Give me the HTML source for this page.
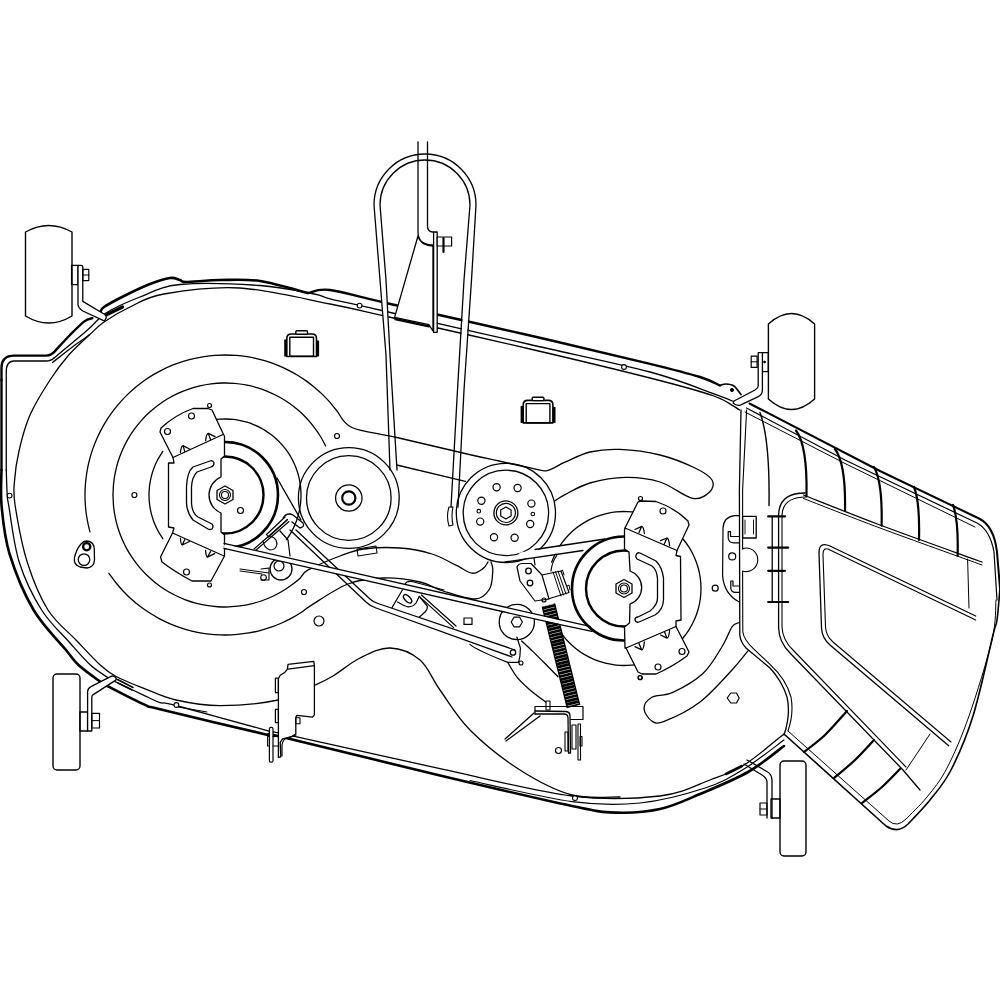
<!DOCTYPE html>
<html><head><meta charset="utf-8">
<style>
html,body{margin:0;padding:0;background:#fff;width:1000px;height:1000px;overflow:hidden;}
svg{display:block;}
</style></head><body>
<svg width="1000" height="1000" viewBox="0 0 1000 1000">
<rect width="1000" height="1000" fill="#fff"/>
<g fill="none" stroke="#000" stroke-linejoin="round" stroke-linecap="round">
<path d="M1.5,470 L1.5,380" stroke-width="2.4" fill="none" />
<path d="M1.5,380 V368 Q1.5,355.6 14,355.6 H46 Q52,355.6 56,350" stroke-width="2.4" fill="none" />
<path d="M56,350 C58.33,347.5 65.27,339.77 70,335 C74.73,330.23 80.67,324.2 84.4,321.4 C88.13,318.6 91.07,318.73 92.4,318.2" stroke-width="2.4" fill="none" />
<path d="M100.4,312 C101,311.17 99.9,309.75 104,307 C108.1,304.25 117.33,299.33 125,295.5 C132.67,291.67 142.5,286.92 150,284 C157.5,281.08 165,278.67 170,278 C175,277.33 177.33,279.33 180,280 C182.67,280.67 179.33,282 186,282 C192.67,282 207.67,280.17 220,280 C232.33,279.83 245.33,278.83 260,281 C274.67,283.17 300,291 308,293" stroke-width="2.6" fill="none" />
<path d="M107,314.5 L122.5,307" stroke-width="3.2" fill="none" />
<path d="M308,293 C311.67,292.5 317,288.33 330,290 C343,291.67 352.67,295.42 386,303 C419.33,310.58 486,325.37 530,335.5 C574,345.63 621.67,356.88 650,363.8 C678.33,370.72 688.33,373.38 700,377 C711.67,380.62 716.67,384.08 720,385.5" stroke-width="2.4" fill="none" />
<path d="M720,385.5 C721,385.25 723.67,383.92 726,384 C728.33,384.08 731.5,384.23 734,386 C736.5,387.77 739.83,393.17 741,394.6" stroke-width="1.6" fill="none" />
<circle cx="732" cy="390" r="1.6" stroke-width="1" fill="#000"/>
<path d="M6.25,470 V372 Q6.25,361 14,361 H46 Q51,361 54,358" stroke-width="1.3" fill="none" />
<path d="M54,358 C59.58,353.33 78.83,337.5 87.5,330 C96.17,322.5 97.25,318.5 106,313 C114.75,307.5 127.67,301.75 140,297 C152.33,292.25 160,286.42 180,284.5 C200,282.58 237.67,283.92 260,285.5 C282.33,287.08 302.33,291.78 314,294 C325.67,296.22 318,295.88 330,298.8 C342,301.72 352.67,303.88 386,311.5 C419.33,319.12 486,334.42 530,344.5 C574,354.58 619,363.65 650,372 C681,380.35 701.5,389.43 716,394.6 C730.5,399.77 733.5,401.6 737,403" stroke-width="1.3" fill="none" />
<path d="M52.5,362.5 C56.25,359.58 68.88,349.58 75,345 C81.12,340.42 84.43,338.8 89.2,335 C93.97,331.2 96.8,326.87 103.6,322.2 C110.4,317.53 119.93,311.7 130,307 C140.07,302.3 145.67,297.17 164,294 C182.33,290.83 212.33,286.33 240,288 C267.67,289.67 305.17,299.17 330,304 C354.83,308.83 355.67,309.5 389,317 C422.33,324.5 486.5,338.83 530,349 C573.5,359.17 619.33,370.17 650,378 C680.67,385.83 699.07,390.67 714,396 C728.93,401.33 735.33,407.67 739.6,410" stroke-width="1.3" fill="none" />
<circle cx="359.6" cy="305.6" r="2.4" stroke-width="1.1" fill="#fff"/>
<circle cx="624" cy="367" r="2.4" stroke-width="1.1" fill="#fff"/>
<path d="M1.5,470 C1.52,476 0.25,492 1.6,506 C2.95,520 4.27,536.67 9.6,554 C14.93,571.33 24.2,594 33.6,610 C43,626 58.52,640.83 66,650 C73.48,659.17 72.92,659.82 78.5,665 C84.08,670.18 94.48,677.48 99.5,681.1 C104.52,684.72 101.02,682.73 108.6,686.7 C116.18,690.67 136.43,701.15 145,704.9 C153.57,708.65 139.5,704.18 160,709.2 C180.5,714.22 248,730.45 268,735 C288,739.55 251.33,729.75 280,736.5 C308.67,743.25 391.33,763.92 440,775.5 C488.67,787.08 542.67,799.82 572,806 C601.33,812.18 601.33,812.1 616,812.6 C630.67,813.1 646,812.1 660,809 C674,805.9 685.33,800.17 700,794 C714.67,787.83 734,780 748,772 C762,764 778,750.33 784,746" stroke-width="2.6" fill="none" />
<path d="M470,780.5 C487,784.02 543.67,797.85 572,801.6 C600.33,805.35 617.83,805.27 640,803 C662.17,800.73 687.67,793.67 705,788 C722.33,782.33 730.83,777 744,769 C757.17,761 777.33,744.83 784,740" stroke-width="1.2" fill="none" />
<path d="M6.25,470 C6.41,474.13 6.78,488.8 7.2,494.8 C7.62,500.8 6.8,494.8 8.8,506 C10.8,517.2 13.73,544.67 19.2,562 C24.67,579.33 33.13,596.5 41.6,610 C50.07,623.5 61.87,633.83 70,643 C78.13,652.17 84.08,659.23 90.4,665 C96.72,670.77 103.47,674.68 107.9,677.6 C112.33,680.52 110.82,679.47 117,682.5 C123.18,685.53 137.83,692.45 145,695.8 C152.17,699.15 154.83,700.98 160,702.6 C165.17,704.22 158,700.8 176,705.5 C194,710.2 250.67,726.18 268,730.8 C285.33,735.42 251.33,726.9 280,733.2 C308.67,739.5 391.33,758.13 440,768.6 C488.67,779.07 535.33,791.43 572,796 C608.67,800.57 637,798.67 660,796 C683,793.33 696,785.17 710,780 C724,774.83 731.67,772.67 744,765 C756.33,757.33 777.33,739.17 784,734" stroke-width="1.3" fill="none" />
<circle cx="9.6" cy="495.6" r="2.4" stroke-width="1.1" fill="#fff"/>
<circle cx="176.4" cy="705" r="2.4" stroke-width="1.1" fill="#fff"/>
<path d="M178,707 L207,712" stroke-width="1.1" fill="none" />
<circle cx="575" cy="798" r="2.5" stroke-width="1.1" fill="#fff"/>
<path d="M89.2,335 C85.79,338.33 75.28,347.5 68.75,355 C62.22,362.5 56.46,370 50,380 C43.54,390 35.13,403.33 30,415 C24.87,426.67 21.8,438.83 19.2,450 C16.6,461.17 15.07,472.67 14.4,482 C13.73,491.33 13.07,492.67 15.2,506 C17.33,519.33 21.73,544.67 27.2,562 C32.67,579.33 39.87,597 48,610 C56.13,623 67.3,630.83 76,640 C84.7,649.17 93.6,658.97 100.2,665 C106.8,671.03 108.13,672.23 115.6,676.2 C123.07,680.17 134.93,684.83 145,688.8 C155.07,692.77 163.5,697.2 176,700 C188.5,702.8 203,705.6 220,705.6 C237,705.6 262.17,703.43 278,700 C293.83,696.57 305.83,689 315,685 C324.17,681 325.5,680.5 333,676 C340.5,671.5 350.5,662.67 360,658 C369.5,653.33 380,647.67 390,648 C400,648.33 411.67,653 420,660 C428.33,667 431.67,678.33 440,690 C448.33,701.67 456.67,716.67 470,730 C483.33,743.33 503,759.17 520,770 C537,780.83 555.33,790.5 572,795 C588.67,799.5 612,796.67 620,797" stroke-width="1.3" fill="none" />
<path d="M25.5,232 Q48.75,219 72,232 V316 Q48.75,330 25.5,316 Z" stroke-width="1.4" fill="none" />
<rect x="71.6" y="265.4" width="6.4" height="19.2" rx="0" stroke-width="1.3" fill="none"/>
<path d="M78,265.4 H81.2 Q82.8,265.4 82.8,267 V301.4 L104.4,314.2 Q107,316 106,318.2 Q105,321 103.6,320.6 L82.8,311 Q78,308 78,304.6 Z" stroke-width="1.3" fill="#fff" />
<rect x="82.8" y="269.4" width="6" height="11.2" rx="0" stroke-width="1.2" fill="none"/>
<path d="M82.8,275 H88.8" stroke-width="1.0" fill="none" />
<rect x="53" y="674" width="27" height="96" rx="4" stroke-width="1.4" fill="none"/>
<rect x="79.9" y="712" width="7.7" height="19" rx="0" stroke-width="1.3" fill="none"/>
<path d="M87.6,731 V691.6 Q88,688 91,686.7 L110,676.9 Q114,674.5 116.3,678.3 Q116.5,680.5 114.2,681.1 L92.5,695.1 Q91.8,696 91.8,698 V731 Z" stroke-width="1.3" fill="#fff" />
<rect x="91.8" y="713.3" width="7.7" height="14.7" rx="0" stroke-width="1.2" fill="none"/>
<path d="M91.8,720.6 H99.5" stroke-width="1.0" fill="none" />
<path d="M117.5,679.5 L133,687.5 M118,683 L132,690" stroke-width="1.6" fill="none" />
<path d="M768.4,324 Q791.5,303 814.6,324 V399 Q791.5,420 768.4,399 Z" stroke-width="1.4" fill="none" />
<rect x="762.4" y="352.7" width="5.9" height="18.9" rx="0" stroke-width="1.3" fill="none"/>
<path d="M758.2,352.7 H762.4 V390.5 Q762,395 757.8,396.8 L740.3,405.2 Q736,406 733.3,403.1 Q733.5,401.5 734,401 L755,390 Q758.2,388 758.2,386 Z" stroke-width="1.3" fill="#fff" />
<rect x="751.2" y="356.2" width="5.9" height="11.2" rx="0" stroke-width="1.2" fill="none"/>
<path d="M751.2,361.8 H757.1" stroke-width="1.0" fill="none" />
<circle cx="764.5" cy="362" r="0.9" stroke-width="1" fill="#000"/>
<rect x="780" y="761" width="26" height="95" rx="4" stroke-width="1.4" fill="none"/>
<rect x="771" y="799" width="9" height="19" rx="0" stroke-width="1.3" fill="none"/>
<path d="M767,818 V782 Q767,778 762,775 L744,764 M772,818 V780 Q772,774 766,771 L747,760" stroke-width="1.3" fill="none" />
<rect x="760" y="803" width="7" height="12" rx="0" stroke-width="1.2" fill="none"/>
<path d="M760,809 H767" stroke-width="1.0" fill="none" />
<path d="M726,774 L742,766" stroke-width="2.6" fill="none" />
<path d="M393.5,470 L388,355 L383,280 L377,205 A48,48 0 0 1 473,205 L467.75,280 L460.75,390 L454.5,507" stroke="#fff" stroke-width="5.5" fill="none"/>
<path d="M390,470 L386,355 L380,280 L374,205 A51,51 0 0 1 476,205 L471.5,280 L464,390 L458,507" stroke-width="1.3" fill="none" />
<path d="M397,470 L390,355 L386,280 L380,205 A45,45 0 0 1 470,205 L464,280 L457.5,390 L451,507" stroke-width="1.3" fill="none" />
<path d="M418,142 V232 Q418,245 433,245 M427.5,142 V226 Q427.5,232 433,232" stroke-width="1.3" fill="none" />
<path d="M418,236 Q420,245 433,246 L433,331 L428.8,324.6 L394.6,317.4 Z" stroke-width="1.3" fill="#fff" />
<path d="M395,319.5 L428.8,326.8" stroke-width="1.3" fill="none" />
<rect x="433.6" y="232" width="3.6" height="100.4" rx="0" stroke-width="1.3" fill="#fff"/>
<rect x="437.2" y="237" width="14.4" height="9" rx="0" stroke-width="1.2" fill="#fff"/>
<path d="M443.5,238 V252" stroke-width="2.2" fill="none" />
<path d="M749.5,403.5 L880,471 L979,518.5 Q994,526 997,552 L1000,588" stroke-width="2.0" fill="none" />
<path d="M746.5,408 L845,460 L977,523 Q990,530 994,552 L997,600" stroke-width="1.2" fill="none" />
<path d="M745,412 L845,463.5 L975,527" stroke-width="1.0" fill="none" />
<path d="M760,412.5 Q770,440 769,505.5" stroke-width="1.4" fill="none" />
<path d="M796,430.5 Q807.5,445.5 806.5,496.5" stroke-width="2.2" fill="none" />
<path d="M835,449 Q846,464 845,511" stroke-width="2.2" fill="none" />
<path d="M874,467 Q882.6,482 881.6,525.6" stroke-width="2.2" fill="none" />
<path d="M914,487 Q920,502 919,540" stroke-width="2.2" fill="none" />
<path d="M953,505 Q958.6,520 957.6,556" stroke-width="2.2" fill="none" />
<path d="M803.5,495 C816.25,500 850.25,513.83 880,525 C909.75,536.17 965,555.83 982,562" stroke-width="1.3" fill="none" />
<path d="M803.5,498.5 C816.25,503.42 850.25,516.92 880,528 C909.75,539.08 965,558.83 982,565" stroke-width="1.0" fill="none" />
<path d="M1000,588 C999.5,593.33 998.17,612.17 997,620 C995.83,627.83 997,619 993,635 C989,651 980,693.5 973,716 C966,738.5 958.17,756 951,770 C943.83,784 937.17,791 930,800 C922.83,809 911.67,820 908,824 Q898,834 886,826 L784,734" stroke-width="1.6" fill="none" />
<path d="M996,600 C995.33,606.67 996.5,620.67 992,640 C987.5,659.33 976.5,694.67 969,716 C961.5,737.33 954,754.5 947,768 C940,781.5 933.83,788.5 927,797 C920.17,805.5 909.5,815.33 906,819 Q897,828 889,821 L788,731" stroke-width="1.0" fill="none" />
<path d="M805,493 Q779,493 778.6,515 L778.6,628 Q779,642 790,653 L903,770 L920,790" stroke-width="1.3" fill="none" />
<path d="M806,497 Q783,497 782,515 L782,627 Q782.5,640 793,650 L906,767" stroke-width="1.1" fill="none" />
<path d="M975.7,616 L830,546 Q819,541 819,553 L821.5,628 Q822,638 830,645 L948.7,745.7" stroke-width="1.3" fill="none" />
<path d="M975.7,620 L830,550 Q823,546 823,555 L825.5,627 Q826,636 833,642 L951,742" stroke-width="1.1" fill="none" />
<path d="M967.6,559 L969,608" stroke-width="1.0" fill="none" />
<path d="M930,734 L906,770" stroke-width="1.0" fill="none" />
<path d="M804,752 C807.5,749.17 817.83,741.83 825,735 C832.17,728.17 843.33,715 847,711" stroke-width="2.2" fill="none" />
<path d="M834,778 C837.5,775 848.33,766.33 855,760 C861.67,753.67 870.83,743.33 874,740" stroke-width="2.2" fill="none" />
<path d="M862,803 C865.33,800.33 875.67,792.67 882,787 C888.33,781.33 897,772 900,769" stroke-width="2.2" fill="none" />
<path d="M741,410 L739.4,490 L739.8,635 Q740.5,642 746,648 L770,668 Q782,681 787,697 Q791,714 784,735" stroke-width="1.3" fill="none" />
<path d="M746.6,410 L742.6,490 L742.6,549" stroke-width="1.1" fill="none" />
<path d="M742.6,549 Q744,548 746,548 A11.5,11.5 0 0 1 746,571.6 Q744,571.6 742.6,571 L742.8,632 Q744,640 753.6,648.8 L770,664.4 Q786,679 791,697 Q794,714 788,731" stroke-width="1.1" fill="none" />
<path d="M739.4,515.6 L734.6,515.6 Q723.5,517 723,528 L722.6,575.6 Q724,594 739.2,602" stroke-width="1.2" fill="none" />
<path d="M728.2,531.6 L728.2,538 Q728.5,542.8 734,542.8 L739.4,542.8 M728.2,531.6 L730.5,531.6 L730.5,536.5 L739.4,536.5" stroke-width="1.2" fill="none" />
<circle cx="732.2" cy="556.4" r="3.5" stroke-width="1.2" fill="none"/>
<path d="M730.8,581 L730.8,588 Q731,592.4 735.6,592.4 L739.4,592.4 M730.8,581 L733,581 L733,586 L739.4,586" stroke-width="1.2" fill="none" />
<rect x="742.6" y="516.4" width="13.6" height="21.6" rx="0" stroke-width="1.3" fill="none"/>
<path d="M745,520 V534 M753.5,520 V534" stroke-width="0.9" fill="none" />
<path d="M772.2,516.4 V602" stroke-width="1.3" fill="none" />
<path d="M768.2,516.4 H785" stroke-width="2.2" fill="none" />
<path d="M768.2,547.6 H788.2" stroke-width="2.2" fill="none" />
<path d="M768.2,570.8 H785" stroke-width="2.2" fill="none" />
<path d="M768.2,602 H788.2" stroke-width="2.2" fill="none" />
<path d="M89.96,531.94 C89.56,530.2 88.2,524.99 87.53,521.48 C86.85,517.97 86.31,514.42 85.9,510.86 C85.5,507.31 85.23,503.73 85.09,500.15 C84.96,496.57 84.97,492.98 85.11,489.41 C85.25,485.83 85.54,482.25 85.95,478.7 C86.37,475.15 86.92,471.6 87.61,468.09 C88.3,464.58 89.12,461.08 90.08,457.63 C91.03,454.18 92.12,450.76 93.34,447.4 C94.56,444.03 95.91,440.71 97.38,437.44 C98.85,434.18 100.45,430.97 102.17,427.83 C103.88,424.69 105.73,421.61 107.68,418.61 C109.63,415.61 111.7,412.68 113.88,409.84 C116.06,407 118.35,404.23 120.74,401.57 C123.13,398.9 125.62,396.32 128.21,393.85 C130.79,391.38 133.48,389 136.25,386.73 C139.02,384.46 141.88,382.29 144.81,380.24 C147.74,378.19 150.76,376.25 153.85,374.43 C156.93,372.61 160.09,370.91 163.3,369.33 C166.51,367.75 169.79,366.3 173.12,364.97 C176.44,363.64 179.82,362.44 183.24,361.37 C186.65,360.31 190.12,359.37 193.61,358.57 C197.09,357.76 200.62,357.09 204.16,356.56 C207.7,356.03 211.27,355.63 214.83,355.37 C218.4,355.11 221.99,354.99 225.57,355 C229.15,355.02 232.74,355.17 236.3,355.46 C239.87,355.75 243.43,356.17 246.97,356.73 C250.5,357.3 254.02,357.99 257.5,358.83 C260.98,359.66 264.44,360.62 267.85,361.72 C271.26,362.81 274.63,364.04 277.94,365.4 C281.25,366.75 284.52,368.23 287.72,369.84 C290.92,371.44 294.07,373.17 297.13,375.01 C300.2,376.86 303.21,378.82 306.12,380.9 C309.04,382.97 311.88,385.16 314.63,387.45 C317.38,389.74 320.05,392.15 322.61,394.64 C325.18,397.14 327.65,399.74 330.02,402.42 C332.39,405.11 333.15,406.57 336.81,410.75 C340.47,414.93 342,423.04 352,427.5 C362,431.96 376.9,432.92 396.8,437.5 C416.7,442.08 454.37,451.08 471.4,455 C488.43,458.92 489,458.8 499,461 C509,463.2 523.4,466.6 531.4,468.2 C539.4,469.8 541.4,471.6 547,470.6 C552.6,469.6 557.83,465.3 565,462.2 C572.17,459.1 580.83,454.13 590,452 C599.17,449.87 608.33,448.9 620,449.4 C631.67,449.9 647.5,451.9 660,455 C672.5,458.1 686.33,463.83 695,468 C703.67,472.17 709.57,476 712,480 C714.43,484 712.8,488.93 709.6,492 C706.4,495.07 701.07,500.07 692.8,498.4 C684.53,496.73 671.2,485.5 660,482 C648.8,478.5 637.27,477.23 625.6,477.4 C613.93,477.57 600.1,480.13 590,483 C579.9,485.87 570.77,491.67 565,494.6 C559.23,497.53 557,499.6 555.4,500.6" stroke-width="1.3" fill="none" />
<path d="M108.93,573.29 C110.07,574.83 113.35,579.55 115.74,582.53 C118.13,585.52 120.65,588.41 123.28,591.19 C125.91,593.97 128.66,596.65 131.5,599.2 C134.35,601.76 137.31,604.2 140.36,606.51 C143.4,608.83 146.55,611.02 149.78,613.07 C153,615.13 156.32,617.06 159.71,618.84 C163.09,620.62 166.56,622.27 170.07,623.78 C173.59,625.28 177.18,626.64 180.81,627.84 C184.44,629.05 188.13,630.11 191.84,631.02 C195.56,631.92 199.32,632.68 203.1,633.28 C206.88,633.87 210.69,634.32 214.5,634.61 C218.32,634.89 222.15,635.02 225.98,635 C229.8,634.97 233.64,634.79 237.45,634.45 C241.25,634.11 245.06,633.61 248.83,632.96 C252.6,632.31 256.35,631.5 260.05,630.54 C263.76,629.58 267.43,628.47 271.04,627.21 C274.65,625.96 278.22,624.54 281.72,623 C285.22,621.45 288.66,619.75 292.02,617.92 C295.37,616.09 298.67,614.11 301.86,612.01 C305.06,609.91 303.5,609.99 311.19,605.32 C318.88,600.65 335.87,588.55 348,584 C360.13,579.45 372,578.33 384,578 C396,577.67 410.17,579.83 420,582 C429.83,584.17 433.83,588.17 443,591 C452.17,593.83 467.23,599.33 475,599 C482.77,598.67 486.63,593.83 489.6,589 C492.57,584.17 492.57,574.5 492.8,570 C493.03,565.5 491.3,563.33 491,562" stroke-width="1.3" fill="none" />
<path d="M325.66,445.9 C324.73,444.21 322.1,439.05 320.06,435.78 C318.02,432.51 315.81,429.33 313.44,426.28 C311.08,423.24 308.54,420.31 305.88,417.52 C303.21,414.74 300.39,412.08 297.45,409.59 C294.51,407.1 291.43,404.75 288.25,402.57 C285.07,400.39 281.76,398.37 278.38,396.54 C274.99,394.7 271.49,393.03 267.93,391.55 C264.37,390.08 260.72,388.78 257.03,387.68 C253.33,386.57 249.57,385.66 245.78,384.94 C241.99,384.23 238.15,383.71 234.31,383.39 C230.47,383.07 226.6,382.95 222.74,383.02 C218.89,383.1 215.02,383.38 211.2,383.85 C207.38,384.33 203.56,385 199.81,385.87 C196.05,386.74 192.32,387.8 188.68,389.05 C185.03,390.3 181.44,391.75 177.94,393.37 C174.44,394.99 171.01,396.79 167.7,398.77 C164.39,400.74 161.17,402.89 158.08,405.19 C154.99,407.49 152,409.97 149.17,412.58 C146.33,415.19 143.62,417.96 141.07,420.84 C138.52,423.73 136.1,426.77 133.86,429.9 C131.62,433.03 129.54,436.3 127.63,439.65 C125.73,443 123.99,446.47 122.44,450 C120.89,453.52 119.52,457.15 118.34,460.82 C117.17,464.49 116.18,468.24 115.39,472.01 C114.59,475.78 114,479.61 113.6,483.44 C113.2,487.27 113.1,493.07 113,495 C112.9,496.93 112.91,493.13 113,495 C113.09,496.87 113.19,502.5 113.56,506.22 C113.94,509.94 114.5,513.66 115.25,517.33 C115.99,520.99 116.93,524.64 118.04,528.21 C119.15,531.78 120.44,535.32 121.9,538.76 C123.36,542.2 125.01,545.59 126.81,548.87 C128.61,552.15 130.58,555.35 132.7,558.44 C134.82,561.52 137.1,564.51 139.52,567.37 C141.93,570.22 144.51,572.97 147.2,575.57 C149.89,578.16 152.72,580.64 155.66,582.96 C158.6,585.27 161.67,587.45 164.82,589.46 C167.98,591.47 171.25,593.33 174.59,595.01 C177.93,596.7 181.37,598.22 184.86,599.56 C188.35,600.9 191.93,602.07 195.54,603.06 C199.15,604.04 202.83,604.85 206.51,605.46 C210.2,606.08 213.94,606.52 217.67,606.76 C221.41,607 225.17,607.06 228.91,606.93 C232.65,606.8 236.4,606.48 240.1,605.98 C243.81,605.47 247.51,604.78 251.15,603.91 C254.78,603.03 258.39,601.97 261.93,600.74 C265.46,599.5 268.94,598.09 272.33,596.51 C275.72,594.93 279.05,593.17 282.26,591.25 C285.48,589.34 288.61,587.26 291.62,585.03 C294.63,582.81 297.54,580.42 300.31,577.9 C303.07,575.39 301.62,573.59 308.23,569.94 C314.85,566.29 330.71,559.49 340,556 C349.29,552.51 354,550.33 364,549 C374,547.67 388.67,547.17 400,548 C411.33,548.83 422.67,551.13 432,554 C441.33,556.87 449.33,562 456,565.2 C462.67,568.4 467.47,572.67 472,573.2 C476.53,573.73 480.53,570.27 483.2,568.4 C485.87,566.53 487.2,563.07 488,562" stroke-width="1.3" fill="none" />
<path d="M396.8,465 L465.4,481.4" stroke-width="1.3" fill="none" />
<path d="M187,429.18 C188.02,428.65 191.04,426.97 193.12,426.01 C195.21,425.05 197.34,424.17 199.51,423.4 C201.67,422.63 203.88,421.96 206.1,421.39 C208.32,420.82 210.58,420.34 212.85,419.98 C215.12,419.61 217.41,419.35 219.7,419.19 C221.99,419.02 224.3,418.97 226.59,419.02 C228.89,419.06 231.19,419.22 233.47,419.47 C235.75,419.73 238.03,420.09 240.28,420.55 C242.53,421.01 244.77,421.58 246.97,422.24 C249.16,422.91 251.34,423.67 253.47,424.53 C255.6,425.39 257.7,426.35 259.74,427.4 C261.78,428.45 263.78,429.6 265.72,430.83 C267.66,432.06 269.55,433.39 271.37,434.79 C273.19,436.19 274.95,437.68 276.64,439.24 C278.32,440.8 279.94,442.44 281.48,444.15 C283.02,445.85 284.48,447.64 285.86,449.47 C287.23,451.31 288.53,453.22 289.73,455.18 C290.93,457.13 292.05,459.15 293.07,461.21 C294.09,463.26 295.03,465.38 295.86,467.52 C296.69,469.66 297.42,471.84 298.06,474.05 C298.69,476.26 299.22,478.5 299.65,480.76 C300.08,483.01 300.41,485.3 300.64,487.58 C300.86,489.87 300.98,492.17 301,494.47 C301.01,496.77 300.93,499.07 300.73,501.36 C300.54,503.65 300.24,505.94 299.85,508.2 C299.45,510.46 298.94,512.71 298.34,514.93 C297.74,517.14 297.03,519.34 296.23,521.49 C295.43,523.64 294.53,525.77 293.54,527.84 C292.55,529.91 291.46,531.94 290.28,533.92 C289.11,535.89 287.12,538.71 286.49,539.67" stroke-width="1.3" fill="none" />
<path d="M162.74,538.59 C161.94,537.27 159.35,533.41 157.9,530.68 C156.45,527.95 155.15,525.12 154.05,522.24 C152.94,519.35 152,516.38 151.26,513.39 C150.51,510.39 149.94,507.33 149.57,504.26 C149.19,501.2 149,498.09 149,495 C149,491.91 149.19,488.8 149.57,485.74 C149.94,482.67 150.51,479.61 151.26,476.61 C152,473.62 152.94,470.65 154.05,467.76 C155.15,464.88 156.45,462.05 157.9,459.32 C159.35,456.59 161.94,452.73 162.74,451.41" stroke-width="1.3" fill="none" />
<path d="M551.64,562.16 C552.37,560.53 554.34,555.5 556.01,552.35 C557.69,549.2 559.61,546.13 561.71,543.24 C563.81,540.35 566.13,537.58 568.61,535.01 C571.09,532.44 573.78,530.02 576.59,527.82 C579.41,525.62 582.41,523.6 585.5,521.82 C588.59,520.03 591.84,518.44 595.16,517.11 C598.47,515.77 601.91,514.65 605.37,513.79 C608.84,512.92 612.4,512.3 615.95,511.92 C619.5,511.55 623.12,511.42 626.69,511.55 C630.26,511.67 633.85,512.05 637.37,512.67 C640.89,513.29 644.4,514.16 647.79,515.27 C651.19,516.37 654.54,517.73 657.75,519.29 C660.97,520.86 664.1,522.67 667.06,524.66 C670.02,526.66 672.87,528.89 675.52,531.28 C678.18,533.67 680.69,536.27 682.99,539.01 C685.28,541.74 687.41,544.67 689.3,547.7 C691.19,550.73 692.89,553.92 694.34,557.18 C695.8,560.44 697.03,563.84 698.02,567.28 C699,570.71 699.75,574.25 700.25,577.78 C700.75,581.32 701,584.93 701,588.5 C701,592.07 700.75,595.68 700.25,599.22 C699.75,602.75 699,606.29 698.02,609.72 C697.03,613.16 695.8,616.56 694.34,619.82 C692.89,623.08 691.19,626.27 689.3,629.3 C687.41,632.33 685.28,635.26 682.99,637.99 C680.69,640.73 678.18,643.33 675.52,645.72 C672.87,648.11 670.02,650.34 667.06,652.34 C664.1,654.33 660.97,656.14 657.75,657.71 C654.54,659.27 651.19,660.63 647.79,661.73 C644.4,662.84 640.89,663.71 637.37,664.33 C633.85,664.95 630.26,665.33 626.69,665.45 C623.12,665.58 619.5,665.45 615.95,665.08 C612.4,664.7 608.84,664.08 605.37,663.21 C601.91,662.35 598.47,661.23 595.16,659.89 C591.84,658.56 588.59,656.97 585.5,655.18 C582.41,653.4 579.41,651.38 576.59,649.18 C573.78,646.98 571.09,644.56 568.61,641.99 C566.13,639.42 563.81,636.65 561.71,633.76 C559.61,630.87 557.69,627.8 556.01,624.65 C554.34,621.5 552.37,616.47 551.64,614.84" stroke-width="1.3" fill="none" />
<path d="M738.4,622.8 C737.33,623.47 734.67,622.93 732,626.8 C729.33,630.67 727.2,638.27 722.4,646 C717.6,653.73 711.47,665.47 703.2,673.2 C694.93,680.93 681.33,688.4 672.8,692.4 C664.27,696.4 656.8,694.53 652,697.2 C647.2,699.87 644,704.4 644,708.4 C644,712.4 648.53,719.07 652,721.2 C655.47,723.33 656.8,724.4 664.8,721.2 C672.8,718 688.8,710.53 700,702 C711.2,693.47 724,678.53 732,670 C740,661.47 745.33,654 748,650.8" stroke-width="1.3" fill="none" />
<path d="M521.6,641 C523.5,642.77 528.7,647.43 533,651.6 C537.3,655.77 543.23,661.8 547.4,666 C551.57,670.2 556.23,675 558,676.8" stroke-width="1.3" fill="none" />
<path d="M507.8,662.4 C509.3,664.8 513.2,672.3 516.8,676.8 C520.4,681.3 524.6,685.2 529.4,689.4 C534.2,693.6 542.9,699.9 545.6,702" stroke-width="1.3" fill="none" />
<path d="M86.7,541 Q94.5,541.5 94.3,550 L94.5,560 Q94,567.5 87,568 L80,567 Q73.5,565 74.4,558 Q76,550 81,544 Q83.5,541 86.7,541 Z" stroke-width="1.3" fill="none" />
<circle cx="86.7" cy="546.7" r="3.6" stroke-width="2.3" fill="none"/>
<circle cx="84" cy="559.6" r="5.8" stroke-width="1.3" fill="none"/>
<circle cx="240.5" cy="510.5" r="3" stroke-width="1.2" fill="none"/>
<circle cx="134.4" cy="495" r="2.5" stroke-width="1.2" fill="none"/>
<circle cx="304" cy="592" r="2.5" stroke-width="1.2" fill="none"/>
<circle cx="319" cy="621" r="5" stroke-width="1.2" fill="none"/>
<circle cx="337" cy="436" r="2.5" stroke-width="1.2" fill="none"/>
<circle cx="715.2" cy="588.2" r="3" stroke-width="1.2" fill="none"/>
<circle cx="225" cy="495" r="53" stroke-width="2.6" fill="none"/>
<circle cx="225" cy="495" r="38.5" stroke-width="2.4" fill="none"/>
<path d="M161,428 Q175,415 193,408.5 L208,408.5 L212,410 L223.5,434.5 L224.5,436 L224.5,456 L221,459 L221,477 A19.5,19.5 0 0 0 221,513 L221,532 L224.5,535 L224.5,556 L211,581 L192,581 Q175,572 162,562 L160.5,557 L172.5,533 L174,528 L168.5,527 L168.5,463 L174,463 L173,457.5 L160,432 Z" stroke-width="1.3" fill="#fff" />
<path d="M173,457.5 L223,434.5 M172.5,533 L224,556" stroke-width="1.3" fill="none" />
<path d="M210,461 Q213,460 214,463 Q214,466 211,467 L197,472 Q192,477 191.5,487 L191.5,503 Q192,513 198,517 L212,524 Q214,526 212,529 Q210,530 208,529 L193,520 Q187,513 186.5,503 L186.5,487 Q187,472 193,467 Z" stroke-width="1.3" fill="none" />
<circle cx="191.5" cy="416" r="3" stroke-width="1.2" fill="none"/>
<circle cx="167.5" cy="431.5" r="3" stroke-width="1.2" fill="none"/>
<circle cx="186.5" cy="572" r="3" stroke-width="1.2" fill="none"/>
<circle cx="209.5" cy="405.5" r="2" stroke-width="1.2" fill="none"/>
<circle cx="209.5" cy="585" r="2" stroke-width="1.2" fill="none"/>
<path d="M180.4,452.3 Q181.21,445.6 183.1,445.6 L189.9,449.2 M183.1,445.6 L184.7,451.4" stroke-width="1.3" fill="none" />
<path d="M205.6,440.6 Q206.41,433.4 208.3,433.4 L215,436.6 M208.3,433.4 L210.6,439.7" stroke-width="1.3" fill="none" />
<path d="M180.4,538.3 Q180.94,545 182.2,545 L189.4,541.5 M182.2,545 L184.7,539.7" stroke-width="1.3" fill="none" />
<path d="M205.6,550.5 Q206.14,557.2 207.4,557.2 L214.6,553.6 M207.4,557.2 L210.6,551.4" stroke-width="1.3" fill="none" />
<path d="M225,486 L233,490.5 L233,499.5 L225,504 L217,499.5 L217,490.5 Z" stroke-width="1.3" fill="none" />
<circle cx="225" cy="495" r="5.5" stroke-width="1.1" fill="none"/>
<circle cx="225" cy="495" r="3.5" stroke-width="1.1" fill="none"/>
<circle cx="348.8" cy="498" r="50.4" stroke-width="1.3" fill="none"/>
<circle cx="348.8" cy="498" r="42.3" stroke-width="1.3" fill="none"/>
<circle cx="348.8" cy="498" r="13.2" stroke-width="1.3" fill="none"/>
<circle cx="348.8" cy="498" r="6.6" stroke-width="2.2" fill="none"/>
<path d="M357,549 L376,546 L377,553 L358,556 Z" stroke-width="1.1" fill="none" />
<circle cx="505.9" cy="512.9" r="49.6" stroke-width="1.3" fill="none"/>
<circle cx="505.9" cy="512.9" r="42.7" stroke-width="1.3" fill="none"/>
<circle cx="505.9" cy="512.9" r="12" stroke-width="1.3" fill="none"/>
<circle cx="505.9" cy="512.9" r="9.6" stroke-width="1.2" fill="none"/>
<path d="M505.9,506.9 L511.1,509.9 L511.1,515.9 L505.9,518.9 L500.7,515.9 L500.7,509.9 Z" stroke-width="1.2" fill="none" />
<circle cx="496.6" cy="487.2" r="3.6" stroke-width="1.2" fill="none"/>
<circle cx="517.6" cy="488" r="3.6" stroke-width="1.2" fill="none"/>
<circle cx="481.4" cy="500.8" r="3.6" stroke-width="1.2" fill="none"/>
<circle cx="531.4" cy="503.6" r="3.6" stroke-width="1.2" fill="none"/>
<circle cx="480.2" cy="521.6" r="3.6" stroke-width="1.2" fill="none"/>
<circle cx="530.2" cy="524" r="3.6" stroke-width="1.2" fill="none"/>
<circle cx="494" cy="537.2" r="3.6" stroke-width="1.2" fill="none"/>
<circle cx="514.6" cy="537.8" r="3.6" stroke-width="1.2" fill="none"/>
<circle cx="478.8" cy="511.2" r="1.8" stroke-width="1.1" fill="none"/>
<circle cx="532.8" cy="514" r="1.8" stroke-width="1.1" fill="none"/>
<path d="M449,507 Q446,516 449,526 L453,525 Q451,516 453,507 Z" stroke-width="1.1" fill="none" />
<circle cx="624" cy="588.5" r="52" stroke-width="2.6" fill="none"/>
<circle cx="624" cy="588.5" r="38" stroke-width="2.4" fill="none"/>
<path d="M625,528 L638,502 Q640,501 642,501 L656,501.5 Q675,508 688,521 L689,525 L677,550.5 L676,555.5 L680.5,556.5 L681,620 L676,621 L676,626.5 L689,652 L687,656 Q672,667 656,674 L642,674 L638,672 L626,648 L625,648 L624.5,627 L629.5,623 L630,604 A17.5,17.5 0 0 0 630,571 L630,570 L629,552 L624.5,549 L624.5,530 Z" stroke-width="1.3" fill="#fff" />
<path d="M625,528 L677,550.5 M626,648 L676,626.5" stroke-width="1.3" fill="none" />
<path d="M636,555 Q637,552 640,553 L656,561 Q662,567 663.5,578 L663.5,600 Q663,610 655,615 L639,622 Q636,623 635,620 Q635,617 638,617 L650,611 Q657.5,605 657.5,598 L657.5,579 Q657,570 652,566 L637,559 Q635,557 636,555 Z" stroke-width="1.3" fill="none" />
<circle cx="663" cy="511" r="3" stroke-width="1.2" fill="none"/>
<circle cx="682" cy="651.5" r="3" stroke-width="1.2" fill="none"/>
<circle cx="658" cy="667" r="3" stroke-width="1.2" fill="none"/>
<circle cx="640.5" cy="498.5" r="2" stroke-width="1.2" fill="none"/>
<circle cx="640" cy="677.5" r="2" stroke-width="1.2" fill="none"/>
<path d="M644.4,533.5 Q643.59,526.3 641.7,526.3 L635,529.5 M641.7,526.3 L639,532.6" stroke-width="1.3" fill="none" />
<path d="M669.6,545.7 Q668.79,538 666.9,538 L660.6,540.7 M666.9,538 L664.2,544.3" stroke-width="1.3" fill="none" />
<path d="M644.4,641.8 Q643.59,649.9 641.7,649.9 L635,646.7 M641.7,649.9 L639,643.6" stroke-width="1.3" fill="none" />
<path d="M669.6,630.5 Q668.79,638.2 666.9,638.2 L660.6,635 M666.9,638.2 L664.7,632.3" stroke-width="1.3" fill="none" />
<path d="M624,579.5 L632,584 L632,593 L624,597.5 L616,593 L616,584 Z" stroke-width="1.3" fill="none" />
<circle cx="624" cy="588.5" r="5.5" stroke-width="1.1" fill="none"/>
<circle cx="624" cy="588.5" r="3.5" stroke-width="1.1" fill="none"/>
<path d="M727.2,698 L730.8,693 L736.4,693 L739.2,698 L736.4,703 L730.8,703 Z" stroke-width="1.2" fill="none" />
<circle cx="640.3" cy="677.7" r="2" stroke-width="1.1" fill="none"/>
<path d="M290,530 L366,602 Q370,606 376,608 L512,657" stroke-width="1.3" fill="none" />
<path d="M296,530 L370,599 Q373,602 378,603.5 L515,650" stroke-width="1.3" fill="none" />
<path d="M277,478 L301,520" stroke-width="1.3" fill="none" />
<path d="M254,549 L287,520 M255.5,550.5 L289,521.5" stroke-width="1.1" fill="none" />
<path d="M266.5,534.5 L285,517 M268.5,537 L287.5,519.5 M266.5,534.5 L268.5,537" stroke-width="1.2" fill="none" />
<path d="M283,518 Q287,512 293,515 L303,523 Q305,527 300,528 L292,522" stroke-width="1.3" fill="none" />
<path d="M263,541 Q264,548 270,550 Q276,550 277,544 L276,540 Q274,537 270,536" stroke-width="1.2" fill="none" />
<path d="M280,531 L288,540 L290,556" stroke-width="1.2" fill="none" />
<circle cx="281" cy="569" r="11" stroke-width="1.3" fill="none"/>
<circle cx="279" cy="566" r="5" stroke-width="1.2" fill="none"/>
<path d="M261,569 L269,568 L269,580 L261,580" stroke-width="1.1" fill="none" />
<circle cx="263.5" cy="577.5" r="2.8" stroke-width="1.1" fill="none"/>
<path d="M240,569 L269,573 M240,571 L262,574" stroke-width="1.0" fill="none" />
<path d="M392,607.6 L402.4,590" stroke-width="1.2" fill="none" />
<path d="M397.6,602 Q404,606 408,606.8 Q413,607 416,603 L419,597" stroke-width="1.2" fill="none" />
<ellipse cx="407.6" cy="598.8" rx="5.2" ry="2.6" transform="rotate(45 407.6 598.8)" stroke-width="1.4" fill="none"/>
<path d="M419.2,596.4 L427.2,606 Q428,609 425,612 L419.2,617.2" stroke-width="1.2" fill="none" />
<path d="M405,584 Q407,580.5 412,581.5 L444,590" stroke-width="1.2" fill="none" />
<path d="M419.2,596.4 L453.6,627.6 M421.5,595 L456,626" stroke-width="1.2" fill="none" />
<rect x="464" y="618" width="8" height="6.4" rx="0" stroke-width="1.2" fill="none"/>
<circle cx="516.8" cy="622" r="17.6" stroke-width="1.3" fill="none"/>
<path d="M511.2,622 L514,617.2 L519.6,617.2 L522.4,622 L519.6,626.8 L514,626.8 Z" stroke-width="1.2" fill="none" />
<path d="M470,644.4 Q476,650 507.8,662.4 L518.6,662.4 Q520.4,656 520.4,648 L516.8,637" stroke-width="1.2" fill="none" />
<circle cx="513" cy="652.5" r="2.7" stroke-width="1.3" fill="none"/>
<circle cx="521" cy="663" r="2" stroke-width="1.1" fill="none"/>
<path d="M517,567 Q518,564 522,563.5 L531,563.5 L542,575 L549,599 L535,601 L520,581 Z" stroke-width="1.2" fill="#fff" />
<circle cx="528.5" cy="571" r="2.8" stroke-width="1.3" fill="none"/>
<circle cx="530" cy="583" r="2.8" stroke-width="1.3" fill="none"/>
<path d="M542,575 L561,571 L569,592.5 L548,599" stroke-width="1.2" fill="none" />
<path d="M553,572 L561,596 M555.5,571.5 L563.5,595 M558,571 L566,594" stroke-width="1.0" fill="none" />
<path d="M561,571 L562.5,570 L564,575 M567,586 L569,585 L570,590" stroke-width="1.0" fill="none" />
<path d="M534,558 L535,565 M557,555 Q552,562 551,571" stroke-width="1.2" fill="none" />
<circle cx="544" cy="600" r="2" stroke-width="1.2" fill="none"/>
<path d="M548.4,605 L573.5,706.5" stroke="#000" stroke-width="14" stroke-linecap="butt" fill="none"/>
<path d="M548.4,605 L573.5,706.5" stroke="#fff" stroke-width="11.5" stroke-linecap="butt" stroke-dasharray="0.45 2.75" fill="none"/>
<path d="M522,555.5 L584,546" stroke="#fff" stroke-width="6.5" fill="none"/>
<path d="M535,549.5 L605,539" stroke-width="1.3" fill="none" />
<path d="M505,562 L583,550.5" stroke-width="1.3" fill="none" />
<path d="M226,546.5 L584,627.5" stroke="#fff" stroke-width="4.2" fill="none"/>
<path d="M224,543.4 L560,619.6 L590,626.4" stroke-width="1.3" fill="none" />
<path d="M224,548.4 L560,624.6 L592,631.4" stroke-width="1.3" fill="none" />
<path d="M288,664.4 L313.8,661.4 L314.4,665.6 L314.4,714.8 L312.6,717.2 L297,715.4 L295.8,717.2 L295.8,734 L291,737 L282.6,738.8 L280.2,742.4 L280.8,756.8 L278.4,757.4 L278.4,678.8 L280.2,675.2 L285,672.2 L287.4,669.2 Z" stroke-width="1.3" fill="#fff" />
<path d="M288,669.2 L314.4,665.6" stroke-width="1.3" fill="none" />
<rect x="275.4" y="678.2" width="3" height="14.4" rx="0" stroke-width="1.2" fill="none"/>
<rect x="275.4" y="709.4" width="3" height="13.2" rx="0" stroke-width="1.2" fill="none"/>
<rect x="295.8" y="717.8" width="4.2" height="6" rx="0" stroke-width="1.1" fill="none"/>
<rect x="269.4" y="727.4" width="3.6" height="34.8" rx="1.5" stroke-width="1.2" fill="#fff"/>
<path d="M269.4,736.5 H267.6 V746 H269.4 M273,736.5 H278.4 M273,746 H278.4" stroke-width="1.1" fill="none" />
<path d="M282,756 V745 Q283,739 287,738 L296,735" stroke-width="1.2" fill="none" />
<path d="M535,711 L566,711.5 Q570,712 570,716 L570.5,753 M535,714 L564,714 Q568,714 568,718 L568.5,753 L570.5,753" stroke-width="1.3" fill="none" />
<path d="M505,739 L534,713 M506,741 L540,716" stroke-width="1.3" fill="none" />
<path d="M535,706.5 H583 V719.5 H571 M535,706.5 V714" stroke-width="1.2" fill="none" />
<rect x="565" y="732" width="3" height="19" rx="0" stroke-width="1.1" fill="none"/>
<rect x="578" y="724" width="2.5" height="36" rx="0" stroke-width="1.1" fill="none"/>
<rect x="572" y="725" width="4" height="24" rx="0" stroke-width="1.1" fill="none"/>
<rect x="580" y="736.5" width="2" height="9.5" rx="0" stroke-width="1.1" fill="none"/>
<circle cx="558.5" cy="750.5" r="3" stroke-width="1.2" fill="none"/>
<rect x="546" y="701" width="4" height="9" rx="0" stroke-width="1.1" fill="none"/>
<path d="M286.8,356.5 V338.5 Q286.8,334 291.3,334 H312.0 Q316.5,334 316.5,338.5 V356.5 Z" stroke-width="1.6" fill="#fff" />
<rect x="289.8" y="337.2" width="23.7" height="19.1" rx="0" stroke-width="1.4" fill="none"/>
<rect x="295.8" y="330.8" width="11.7" height="3.4" rx="1" stroke-width="1.4" fill="#fff"/>
<rect x="284.2" y="339.5" width="2.6" height="17.0" fill="#000" stroke="none"/>
<rect x="316.5" y="340.5" width="2.6" height="16.0" fill="#000" stroke="none"/>
<path d="M523.2,422.9 V404.9 Q523.2,400.4 527.7,400.4 H548.4000000000001 Q552.9000000000001,400.4 552.9000000000001,404.9 V422.9 Z" stroke-width="1.6" fill="#fff" />
<rect x="526.2" y="403.6" width="23.7" height="19.1" rx="0" stroke-width="1.4" fill="none"/>
<rect x="532.2" y="397.2" width="11.7" height="3.4" rx="1" stroke-width="1.4" fill="#fff"/>
<rect x="520.6" y="405.9" width="2.6" height="17.0" fill="#000" stroke="none"/>
<rect x="552.9000000000001" y="406.9" width="2.6" height="16.0" fill="#000" stroke="none"/>
</g>
</svg>
</body></html>
